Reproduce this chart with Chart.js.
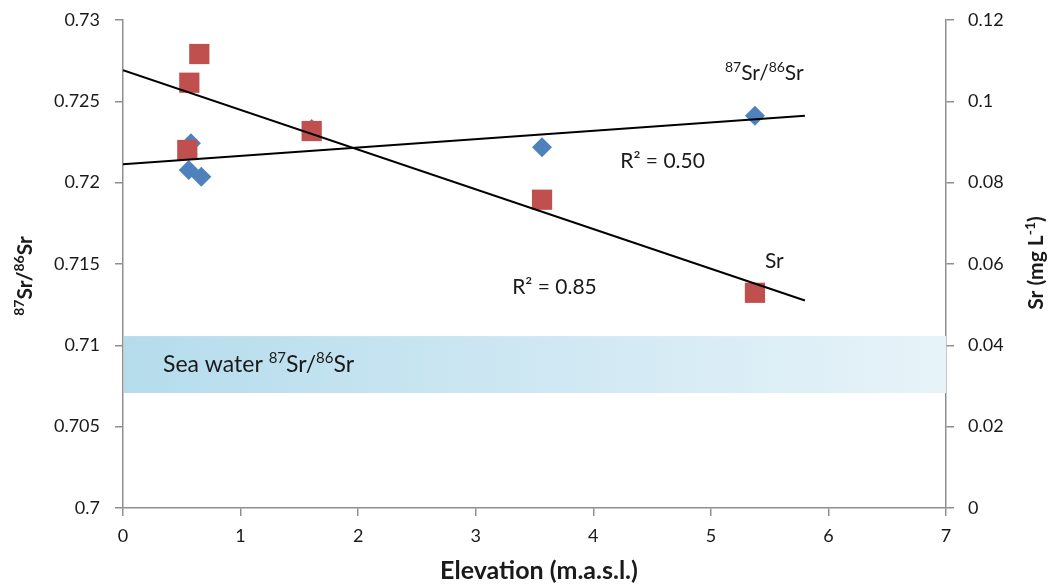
<!DOCTYPE html>
<html>
<head>
<meta charset="utf-8">
<script src="https://cdn.jsdelivr.net/npm/chart.js@4.4.1/dist/chart.umd.min.js"></script>
<style>
  html, body { margin: 0; padding: 0; background: #ffffff; }
  #wrap { width: 1054px; height: 585px; position: relative; }
</style>
</head>
<body>
<div id="wrap"><canvas id="c" width="1054" height="585"></canvas></div>
<script>
// ---- data ----
const srIsoElevation = [0.578, 0.559, 0.666, 1.605, 3.564, 5.375];
const srIsoRatio     = [0.72242, 0.72078, 0.72037, 0.7233, 0.72217, 0.72412];
const srConcElevation = [0.649, 0.564, 0.547, 1.605, 3.564, 5.375];
const srConc          = [0.11164, 0.10458, 0.08803, 0.0927, 0.07581, 0.05292];
const trendRange = [0, 5.8];
const seaWaterRange = [0.70707, 0.71057];
const xTicks = [0, 1, 2, 3, 4, 5, 6, 7];
const leftTicks = [0.7, 0.705, 0.71, 0.715, 0.72, 0.725, 0.73];
const rightTicks = [0, 0.02, 0.04, 0.06, 0.08, 0.1, 0.12];
const r2Iso = "R\u00B2 = 0.50";
const r2Conc = "R\u00B2 = 0.85";

function linreg(xs, ys) {
  const n = xs.length;
  const mx = xs.reduce((a, b) => a + b, 0) / n;
  const my = ys.reduce((a, b) => a + b, 0) / n;
  let sxy = 0, sxx = 0;
  for (let i = 0; i < n; i++) { sxy += (xs[i] - mx) * (ys[i] - my); sxx += (xs[i] - mx) ** 2; }
  const m = sxy / sxx;
  return { m, b: my - m * mx };
}
function trendPoints(xs, ys) {
  const r = linreg(xs, ys);
  return trendRange.map(x => ({ x, y: r.b + r.m * x }));
}
const zip = (xs, ys) => xs.map((x, i) => ({ x, y: ys[i] }));

const FONT = 'Lato, "Open Sans", "DejaVu Sans", sans-serif';
const TXT = '#1a1a1a';
const AXIS = '#8f8f8f';

function drawRich(ctx, parts, x, y, size, bold) {
  let cx = x;
  for (const p of parts) {
    const s = p.sup ? Math.round(size * 0.66) : size;
    ctx.font = (bold ? 'bold ' : '') + s + 'px ' + FONT;
    const dy = p.sup ? -size * 0.4 : 0;
    ctx.fillText(p.t, cx, y + dy);
    cx += ctx.measureText(p.t).width;
  }
  return cx - x;
}
function richWidth(ctx, parts, size, bold) {
  let w = 0;
  for (const p of parts) {
    const s = p.sup ? Math.round(size * 0.66) : size;
    ctx.font = (bold ? 'bold ' : '') + s + 'px ' + FONT;
    w += ctx.measureText(p.t).width;
  }
  return w;
}
const isoParts = [{ t: '87', sup: true }, { t: 'Sr/' }, { t: '86', sup: true }, { t: 'Sr' }];

const bandPlugin = {
  id: 'band',
  beforeDatasetsDraw(chart) {
    const { ctx, chartArea } = chart;
    const y = chart.scales.y;
    const top = y.getPixelForValue(seaWaterRange[1]);
    const bot = y.getPixelForValue(seaWaterRange[0]);
    const g = ctx.createLinearGradient(chartArea.left, 0, chartArea.right, 0);
    g.addColorStop(0, '#b5dcec');
    g.addColorStop(1, '#e7f3f9');
    ctx.save();
    ctx.fillStyle = g;
    ctx.fillRect(chartArea.left + 1, top, chartArea.right - chartArea.left - 1, bot - top);
    ctx.fillStyle = TXT;
    ctx.textBaseline = 'alphabetic';
    ctx.textAlign = 'left';
    drawRich(ctx, [{ t: 'Sea water ' }].concat(isoParts), chart.scales.x.getPixelForValue(0.34), y.getPixelForValue(0.70833), 23, false);
    ctx.restore();
  }
};

const textPlugin = {
  id: 'texts',
  afterDraw(chart) {
    const { ctx } = chart;
    const x = chart.scales.x, y = chart.scales.y;
    ctx.save();
    ctx.fillStyle = TXT;
    ctx.textBaseline = 'alphabetic';
    ctx.textAlign = 'left';
    drawRich(ctx, isoParts, x.getPixelForValue(5.12), y.getPixelForValue(0.72631), 21, false);
    drawRich(ctx, [{ t: r2Iso }], x.getPixelForValue(4.23), y.getPixelForValue(0.7209), 21, false);
    drawRich(ctx, [{ t: 'Sr' }], x.getPixelForValue(5.46), y.getPixelForValue(0.71475), 21, false);
    drawRich(ctx, [{ t: r2Conc }], x.getPixelForValue(3.31), y.getPixelForValue(0.71316), 21, false);

    // x title
    ctx.textAlign = 'left';
    ctx.font = 'bold 25px ' + FONT;
    const xt = 'Elevation (m.a.s.l.)';
    const xw = ctx.measureText(xt).width;
    ctx.fillText(xt, 539 - xw / 2, 579);

    // left title
    ctx.save();
    ctx.translate(32, 276);
    ctx.rotate(-Math.PI / 2);
    const lw = richWidth(ctx, isoParts, 21, true);
    drawRich(ctx, isoParts, -lw / 2, 0, 21, true);
    ctx.restore();

    // right title
    ctx.save();
    ctx.translate(1043, 263);
    ctx.rotate(-Math.PI / 2);
    const rParts = [{ t: 'Sr (mg L' }, { t: '-1', sup: true }, { t: ')' }];
    const rw = richWidth(ctx, rParts, 21, true);
    drawRich(ctx, rParts, -rw / 2, 0, 21, true);
    ctx.restore();
    ctx.restore();
  }
};

const tickFont = { family: FONT, size: 18 };
const fitY = w => s => { s.width = w; s.paddingTop = 0; s.paddingBottom = 0; };

new Chart(document.getElementById('c'), {
  type: 'scatter',
  data: {
    datasets: [
      { label: 'Iso trend', type: 'line', data: trendPoints(srIsoElevation, srIsoRatio), yAxisID: 'y',
        borderColor: '#000', borderWidth: 2, pointRadius: 0, fill: false, order: 0 },
      { label: 'Sr trend', type: 'line', data: trendPoints(srConcElevation, srConc), yAxisID: 'y1',
        borderColor: '#000', borderWidth: 2, pointRadius: 0, fill: false, order: 0 },
      { label: 'Sr', data: zip(srConcElevation, srConc), yAxisID: 'y1', pointStyle: 'rect',
        pointRadius: 14.3, backgroundColor: '#c0504d', borderColor: '#c0504d', borderWidth: 0, order: 1 },
      { label: '87Sr/86Sr', data: zip(srIsoElevation, srIsoRatio), yAxisID: 'y', pointStyle: 'rectRot',
        pointRadius: 10, backgroundColor: '#4f81bd', borderColor: '#4f81bd', borderWidth: 0, order: 2 }
    ]
  },
  options: {
    responsive: false,
    devicePixelRatio: 1,
    animation: false,
    layout: { padding: { top: 20, left: 0, right: 0, bottom: 0 } },
    plugins: { legend: { display: false }, tooltip: { enabled: false } },
    scales: {
      x: {
        type: 'linear', min: 0, max: 7,
        afterBuildTicks: s => { s.ticks = xTicks.map(v => ({ value: v })); },
        afterFit: s => { s.height = 77; s.paddingLeft = 0; s.paddingRight = 0; },
        ticks: { font: tickFont, color: TXT, padding: 9, callback: v => String(v) },
        grid: { drawOnChartArea: false, drawTicks: true, tickLength: 8, color: AXIS, lineWidth: 1.5 },
        border: { color: AXIS, width: 1.5 }
      },
      y: {
        type: 'linear', position: 'left', min: 0.7, max: 0.73,
        afterBuildTicks: s => { s.ticks = leftTicks.map(v => ({ value: v })); },
        afterFit: fitY(123),
        ticks: { font: tickFont, color: TXT, padding: 15, callback: v => String(+v.toFixed(3)) },
        grid: { drawOnChartArea: false, drawTicks: true, tickLength: 8, color: AXIS, lineWidth: 1.5 },
        border: { color: AXIS, width: 1.5 }
      },
      y1: {
        type: 'linear', position: 'right', min: 0, max: 0.12,
        afterBuildTicks: s => { s.ticks = rightTicks.map(v => ({ value: v })); },
        afterFit: fitY(108),
        ticks: { font: tickFont, color: TXT, padding: 14, callback: v => String(+v.toFixed(2)) },
        grid: { drawOnChartArea: false, drawTicks: true, tickLength: 8, color: AXIS, lineWidth: 1.5 },
        border: { color: AXIS, width: 1.5 }
      }
    }
  },
  plugins: [bandPlugin, textPlugin]
});
</script>
</body>
</html>
